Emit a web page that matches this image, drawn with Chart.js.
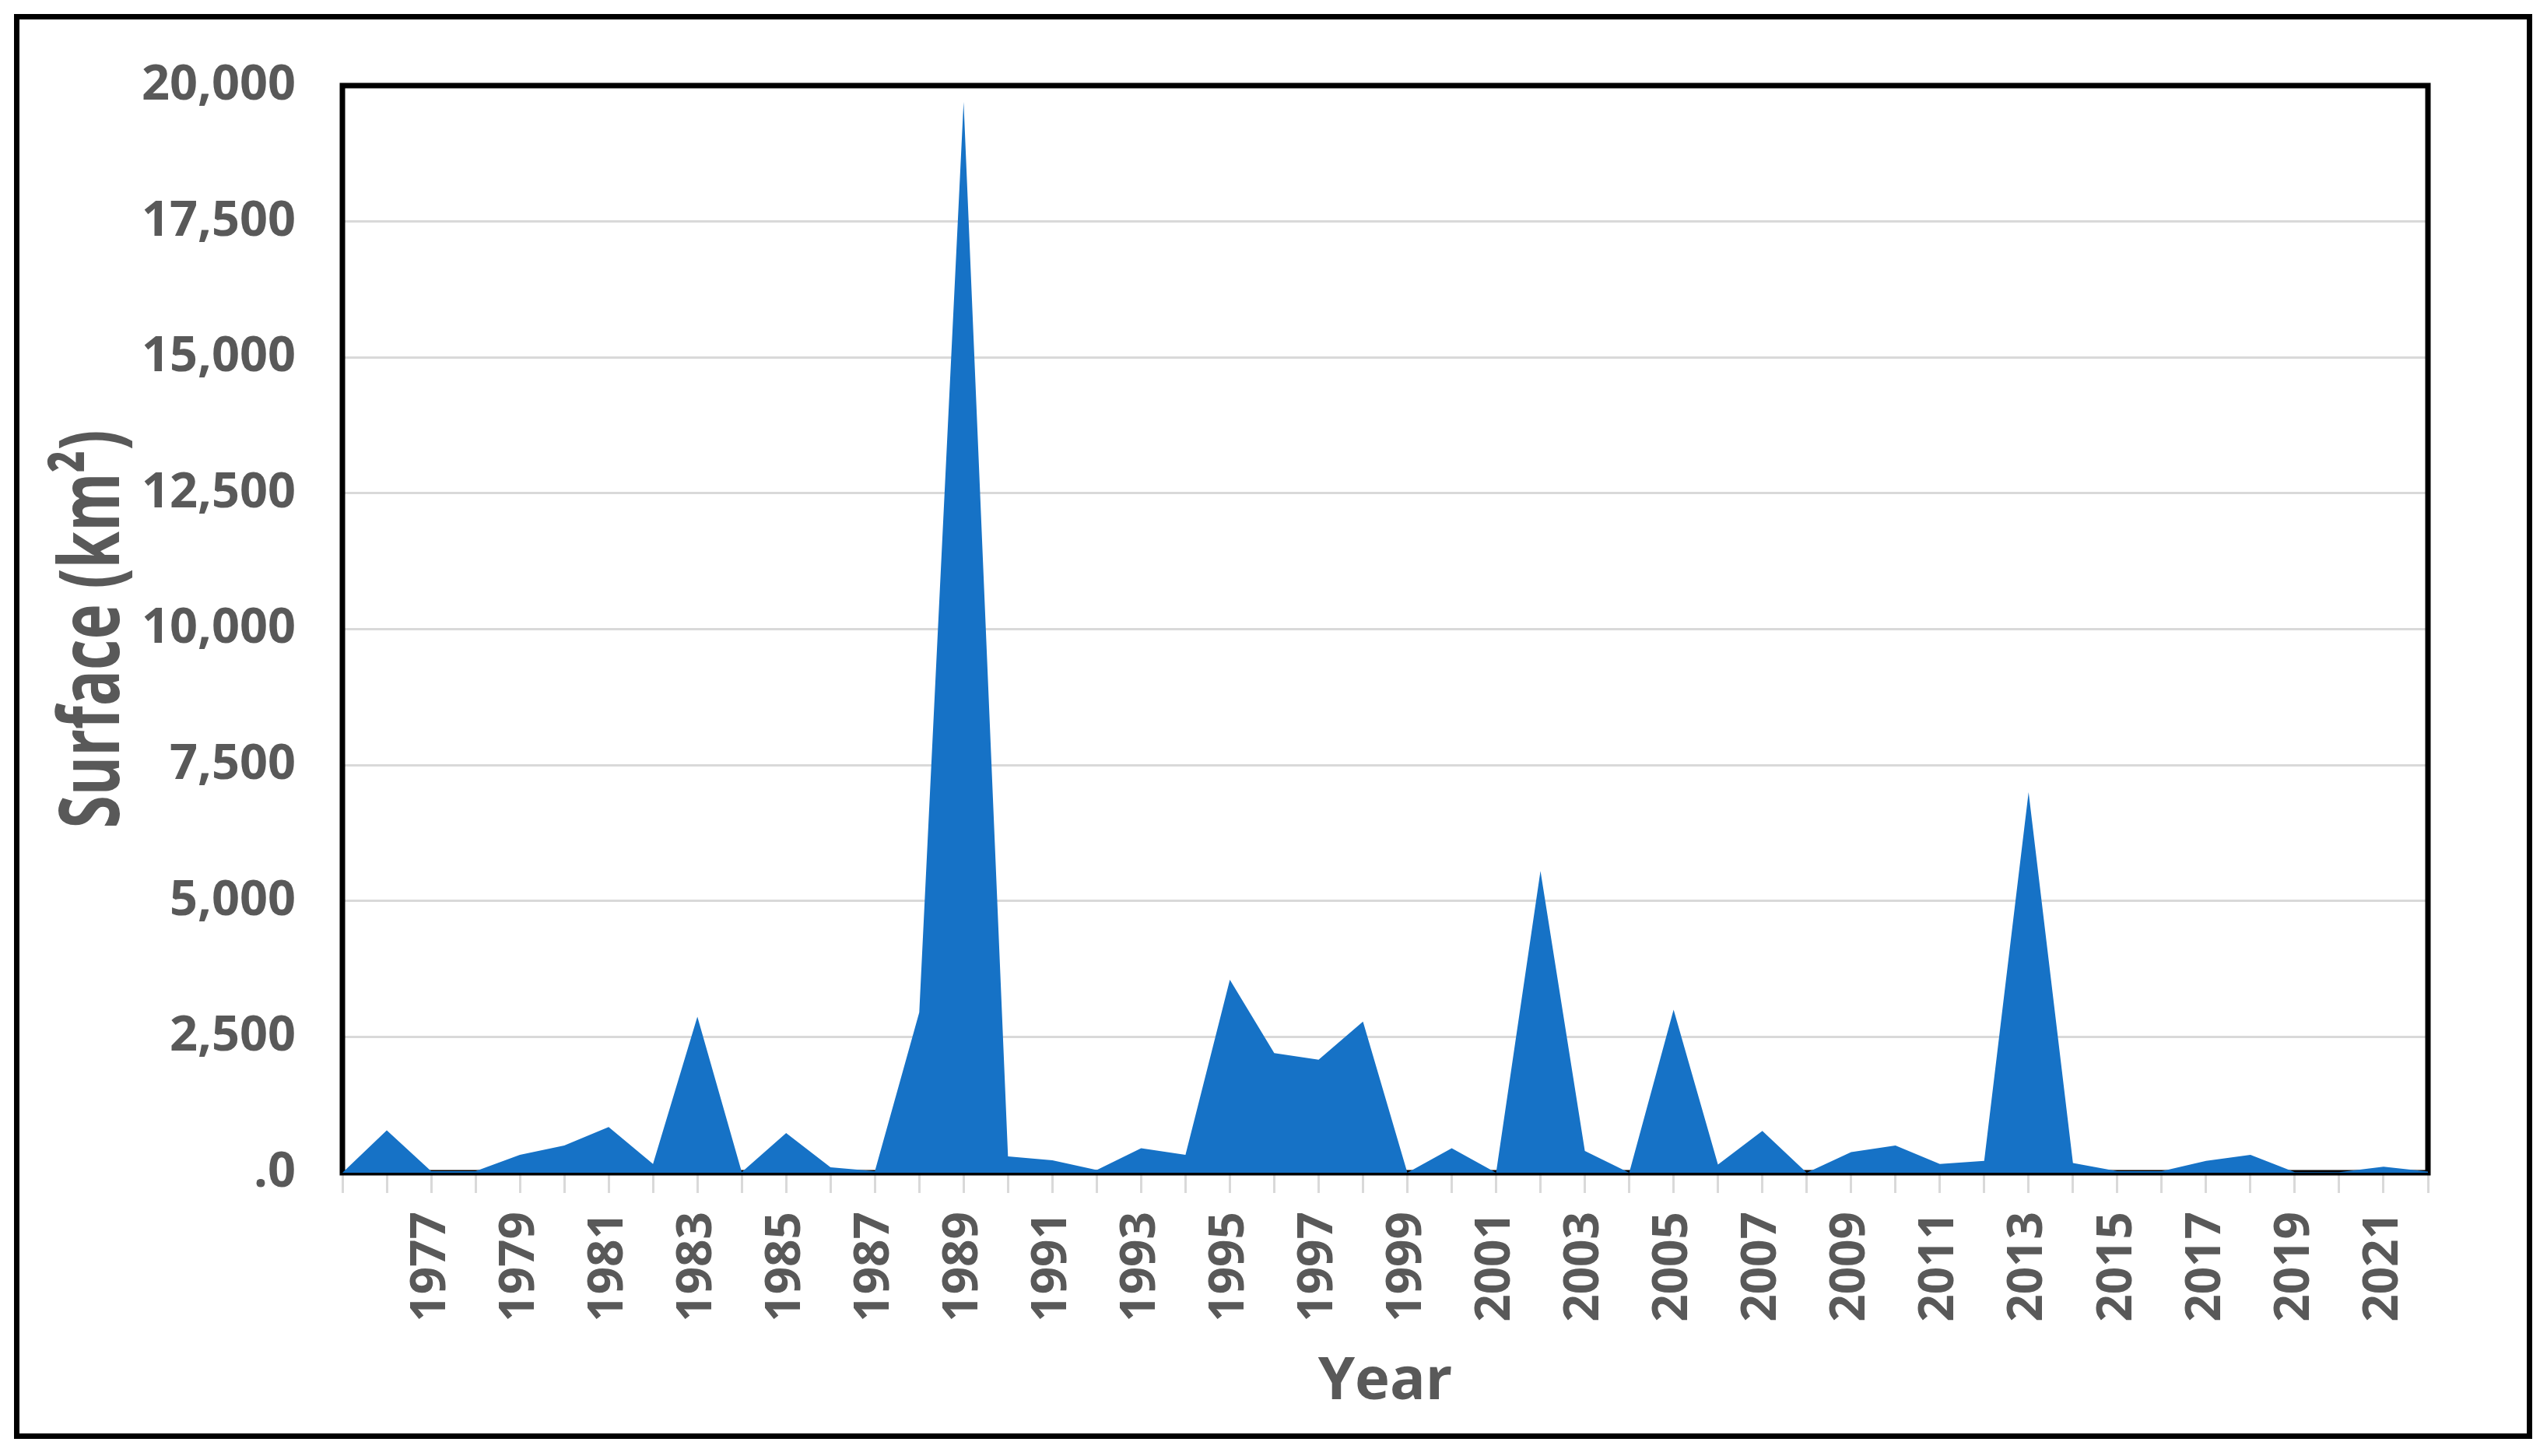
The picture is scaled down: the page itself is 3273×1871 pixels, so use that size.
<!DOCTYPE html>
<html>
<head>
<meta charset="utf-8">
<script src="https://cdn.jsdelivr.net/npm/chart.js@4.4.1/dist/chart.umd.min.js"></script>
<style>
  html, body { margin: 0; padding: 0; background: #fff; overflow: hidden; }
  #wrap { position: relative; width: 3273px; height: 1871px; }
</style>
</head>
<body>
<div id="wrap"><canvas id="surfaceChart"></canvas></div>
<script>
// years on the category axis
var years = [1975, 1976, 1977, 1978, 1979, 1980, 1981, 1982, 1983, 1984,
             1985, 1986, 1987, 1988, 1989, 1990, 1991, 1992, 1993, 1994,
             1995, 1996, 1997, 1998, 1999, 2000, 2001, 2002, 2003, 2004,
             2005, 2006, 2007, 2008, 2009, 2010, 2011, 2012, 2013, 2014,
             2015, 2016, 2017, 2018, 2019, 2020, 2021, 2022];

// surface in km2
var surface = [0, 780, 30, 30, 330, 500, 840, 160, 2870, 10,
               730, 100, 30, 2950, 19700, 300, 230, 50, 450, 330,
               3550, 2200, 2080, 2780, 0, 450, 0, 5550, 400, 0,
               3000, 150, 770, 0, 380, 500, 160, 220, 7000, 180,
               30, 30, 220, 330, 10, 10, 110, 20];

// only these years get a label under the axis
var labelledYears = [1977, 1979, 1981, 1983, 1985, 1987, 1989, 1991, 1993, 1995,
                     1997, 1999, 2001, 2003, 2005, 2007, 2009, 2011, 2013, 2015,
                     2017, 2019, 2021];

var yTitle = 'Surface (km²)';

var textGrey = '#595959';
var gridGrey = '#d9d9d9';

// white page, black outer box, black frame round the plot area
var framePlugin = {
    id: 'frames',
    beforeDraw: function (chart) {
        var ctx = chart.ctx;
        ctx.save();
        ctx.fillStyle = '#fff';
        ctx.fillRect(0, 0, chart.width, chart.height);
        ctx.strokeStyle = '#000';
        ctx.lineWidth = 7;
        ctx.strokeRect(21.5, 21.5, chart.width - 44, chart.height - 47);
        ctx.restore();
    },
    beforeDatasetsDraw: function (chart) {
        var a = chart.chartArea;
        var ctx = chart.ctx;
        ctx.save();
        ctx.strokeStyle = '#000';
        ctx.lineWidth = 7;
        ctx.strokeRect(a.left, a.top, a.right - a.left, a.bottom - a.top);
        ctx.restore();
    }
};

// the y title in the picture is a narrow face; none is installed, so squeeze it
var yTitlePlugin = {
    id: 'yTitle',
    afterDraw: function (chart) {
        var a = chart.chartArea;
        var ctx = chart.ctx;
        ctx.save();
        ctx.translate(153, (a.top + a.bottom) / 2);
        ctx.rotate(-Math.PI / 2);
        ctx.scale(0.71, 1);
        ctx.font = 'bold 108px "Open Sans"';
        ctx.fillStyle = textGrey;
        ctx.textAlign = 'center';
        ctx.textBaseline = 'alphabetic';
        ctx.fillText(yTitle, 0, 0);
        ctx.restore();
    }
};

var ctx = document.getElementById('surfaceChart').getContext('2d');

var surfaceChart = new Chart(ctx, {
    type: 'line',
    data: {
        labels: years,
        datasets: [{
            label: 'Surface',
            data: surface,
            fill: 'origin',
            backgroundColor: '#1672c6',
            borderWidth: 0,
            pointRadius: 0,
            tension: 0
        }]
    },
    options: {
        responsive: true,
        maintainAspectRatio: false,
        animation: false,
        layout: { padding: { top: 110, right: 153, bottom: 0, left: 0 } },
        plugins: {
            legend: { display: false },
            tooltip: { enabled: false }
        },
        scales: {
            x: {
                offset: false,
                border: { display: false },
                grid: {
                    drawOnChartArea: false,
                    drawTicks: true,
                    tickLength: 26,
                    tickWidth: 3,
                    tickColor: gridGrey
                },
                ticks: {
                    autoSkip: false,
                    minRotation: 90,
                    maxRotation: 90,
                    padding: 24,
                    color: textGrey,
                    font: { family: 'Open Sans', weight: 'bold', size: 62 },
                    callback: function (value, index) {
                        var y = years[index];
                        return labelledYears.indexOf(y) >= 0 ? String(y) : '';
                    }
                },
                title: {
                    display: true,
                    text: 'Year',
                    color: textGrey,
                    font: { family: 'Open Sans', weight: 'bold', size: 76 },
                    padding: { top: 0, bottom: 49 }
                },
                afterFit: function (scale) { scale.height = 364; }
            },
            y: {
                min: 0,
                max: 20000,
                border: { display: false },
                grid: {
                    color: gridGrey,
                    lineWidth: 3,
                    drawTicks: false
                },
                ticks: {
                    stepSize: 2500,
                    padding: 60,
                    color: textGrey,
                    font: { family: 'Open Sans', weight: 'bold', size: 63 },
                    callback: function (value) {
                        if (value === 0) return '.0';
                        return value.toLocaleString('en-US');
                    }
                },
                title: { display: false },
                afterFit: function (scale) { scale.width = 440; }
            }
        }
    },
    plugins: [framePlugin, yTitlePlugin]
});
</script>
</body>
</html>
